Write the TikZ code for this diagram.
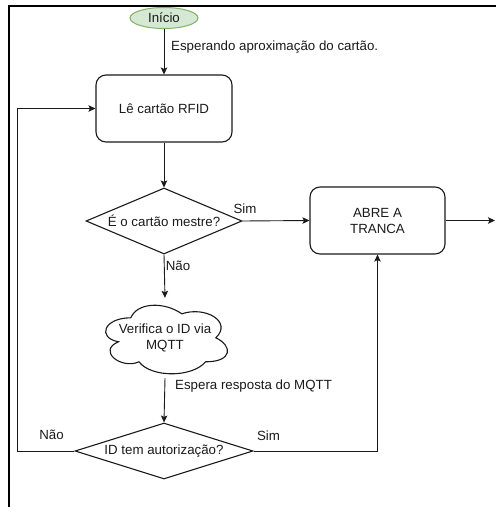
\documentclass[tikz,border=0pt]{standalone}
\usepackage{fontspec}
\setmainfont{Liberation Sans}
\usetikzlibrary{shapes.geometric,arrows.meta}
\definecolor{startfill}{HTML}{D5E8D4}
\definecolor{startline}{HTML}{82B366}
\definecolor{ink}{HTML}{1A1A1A}
\begin{document}
\begin{tikzpicture}[x=1pt,y=-1pt,
  font=\fontsize{13.3}{16}\selectfont,
  every node/.style={text=ink},
  terminal/.style={ellipse, draw=startline, fill=startfill, line width=1pt,
    minimum width=68pt, minimum height=21pt, inner sep=0pt},
  stepbox/.style={draw=ink, line width=1.1pt, rounded corners=10pt,
    minimum width=136pt, minimum height=67pt, align=center, inner sep=0pt},
  decision/.style={diamond, draw=ink, line width=1.1pt, inner sep=0pt},
  flow/.style={draw=ink, line width=0.9pt,
    -{Stealth[length=7pt,width=6.5pt,inset=1.5pt]}},
  wire/.style={draw=ink, line width=0.9pt},
  lbl/.style={inner sep=0pt}
]
\useasboundingbox (0,0) rectangle (496,507);

% outer frame (top and left edges)
\draw[line width=1.6pt, black] (9,507) -- (9,6) -- (496,6);

% nodes
\node[terminal] (inicio) at (164,18) {Início};
\node[stepbox] (le) at (164,108.5) {Lê cartão RFID};
\node[decision, minimum width=156pt, minimum height=66pt, aspect=2.36]
  (d1) at (164,221) {É o cartão mestre?};
\node[stepbox, minimum width=135pt] (abre) at (377.5,220.5) {ABRE A\\TRANCA};
\node[minimum width=136pt, minimum height=80pt, inner sep=0pt, align=center]
  (vq) at (165,338) {Verifica o ID via\\MQTT};
\node[decision, minimum width=178pt, minimum height=56pt, aspect=3.18]
  (d2) at (164,451) {ID tem autorização?};

% cloud outline around the MQTT check
\begin{scope}[shift={(vq.north west)}, x=136pt, y=-80pt]
  \draw[ink, line width=1.1pt]
    (0.25,0.25) .. controls (0.05,0.25) and (0,0.5) .. (0.16,0.55)
    .. controls (0,0.66) and (0.18,0.9) .. (0.31,0.8)
    .. controls (0.4,1) and (0.7,1) .. (0.8,0.8)
    .. controls (1,0.8) and (1,0.6) .. (0.875,0.5)
    .. controls (1,0.3) and (0.8,0.1) .. (0.625,0.2)
    .. controls (0.5,0.05) and (0.3,0.05) .. cycle;
\end{scope}

% free ends and bends
\coordinate (out) at (495,220.5);
\coordinate (back) at (17,451);

% connectors
\path[flow] (inicio) -- (le);
\path[flow] (le) -- (d1);
\path[flow] (d1.east) -- (abre.west);
\path[flow] (d1.south) -- (vq.north);
\path[flow] (vq.south) -- (d2.north);
\path[flow] (d2.east) -| (abre.south);
\path[flow] (d2.west) -- (back) |- (le.west);
\path[flow] (abre.east) -- (out);

% connector labels
\node[lbl, anchor=west] (l1) at (171,47) {Esperando aproximação do cartão.};
\node[lbl] (l2) at (245,209) {Sim};
\node[lbl] (l3) at (178,266) {Não};
\node[lbl, anchor=west] (l4) at (175,386) {Espera resposta do MQTT};
\node[lbl] (l5) at (51.5,435) {Não};
\node[lbl] (l6) at (268.5,436) {Sim};
\end{tikzpicture}
\end{document}
